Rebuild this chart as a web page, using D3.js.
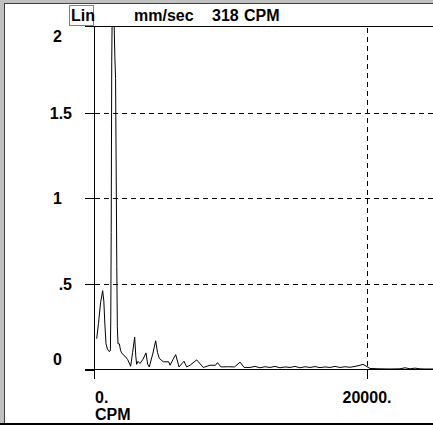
<!DOCTYPE html>
<html lang="en">
<head>
<meta charset="utf-8">
<style>
  body { margin: 0; background: #fff; }
  svg { display: block; }
  .lbl { font-family: "Liberation Sans", Arial, sans-serif; font-weight: bold; font-size: 16px; fill: #000; }
  .grid { stroke: #000; stroke-width: 1px; stroke-dasharray: 5,4; fill: none; shape-rendering: crispEdges; }
  .ax { stroke: #000; stroke-width: 1px; shape-rendering: crispEdges; }
  .spec { fill: none; stroke: #000; stroke-width: 1px; }
</style>
<script src="https://d3js.org/d3.v7.min.js"></script>
</head>
<body>
<script>
// header texts
var scaleType = "Lin";
var unitLabel = "mm/sec";
var cursorValue = "318";
var cursorUnit = "CPM";
var xTitle = "CPM";

// axes
var yTicks = [0, 0.5, 1, 1.5, 2];
var yTickLabels = ["0", ".5", "1", "1.5", "2"];
var xTicks = [0, 20000];
var xTickLabels = ["0.", "20000."];

// spectrum (CPM, mm/sec)
var freqCpm = [198, 330, 480, 636, 720, 800, 880, 980, 1100, 1200, 1230, 1260, 1300, 1340,
  1400, 1450, 1480, 1530, 1580, 1630, 1670, 1710, 1760, 1856, 1950, 2027, 2150, 2271, 2466,
  2686, 2830, 2979, 3060, 3125, 3223, 3370, 3590, 3809, 3931, 4051, 4300, 4520, 4650, 4784,
  5077, 5470, 5568, 5800, 5985, 6227, 6593, 6789, 7033, 7524, 8008, 8498, 8900, 9046, 9300,
  9800, 10300, 10700, 11000, 11429, 11795, 12161, 12527, 12894, 13260, 13626, 13993, 14359,
  14725, 15092, 15458, 15824, 16190, 16557, 16923, 17289, 17656, 18022, 18388, 18755, 19121,
  19487, 19707, 19927, 20220, 20952, 21685, 22418, 22784, 23150, 23517, 23883, 24249, 24835];
var amplitude = [0.18, 0.27, 0.39, 0.46, 0.40, 0.26, 0.15, 0.12, 0.105, 0.11, 0.30, 0.80, 1.80, 2.15,
  2.50, 2.30, 2.00, 1.82, 1.70, 1.10, 0.60, 0.25, 0.15, 0.15, 0.11, 0.097, 0.085, 0.078, 0.058,
  0.019, 0.10, 0.19, 0.08, 0.03, 0.048, 0.035, 0.06, 0.097, 0.03, 0.015, 0.09, 0.168, 0.10, 0.065,
  0.045, 0.045, 0.025, 0.06, 0.087, 0.015, 0.048, 0.015, 0.025, 0.056, 0.012, 0.025, 0.025, 0.04, 0.015,
  0.016, 0.015, 0.043, 0.012, 0.012, 0.018, 0.010, 0.016, 0.012, 0.018, 0.010, 0.015, 0.012,
  0.018, 0.010, 0.016, 0.012, 0.017, 0.011, 0.015, 0.012, 0.018, 0.012, 0.016, 0.013, 0.018,
  0.025, 0.030, 0.020, 0.006, 0.004, 0.003, 0.004, 0.010, 0.004, 0.008, 0.004, 0.003, 0.003];

var width = 433, height = 425;
var plotLeft = 94, plotRight = 433, plotTop = 27, plotBottom = 369.5;

var x = d3.scaleLinear().domain([0, 20000]).range([plotLeft, 367]);
var y = d3.scaleLinear().domain([0, 2]).range([plotBottom, plotTop]);

var svg = d3.select("body").append("svg")
  .attr("width", width)
  .attr("height", height);

// window frame
svg.append("rect").attr("width", width).attr("height", height).attr("fill", "#c0c0c0");
svg.append("rect").attr("x", 5).attr("y", 4).attr("width", width - 5).attr("height", 419).attr("fill", "#fff");
svg.append("line").attr("x1", 4.5).attr("x2", 4.5).attr("y1", 3).attr("y2", 423).attr("stroke", "#404040");
svg.append("line").attr("x1", 4).attr("x2", width).attr("y1", 3.5).attr("y2", 3.5).attr("stroke", "#404040");
svg.append("rect").attr("x", 0).attr("y", 423).attr("width", width).attr("height", 2).attr("fill", "#000");

// header
svg.append("rect")
  .attr("x", 69.5).attr("y", 5.5).attr("width", 24).attr("height", 20)
  .attr("fill", "none").attr("stroke", "#000").attr("stroke-dasharray", "1,1");
svg.append("text").attr("class", "lbl").attr("x", 71).attr("y", 21).text(scaleType);
svg.append("text").attr("class", "lbl").attr("x", 134).attr("y", 21).text(unitLabel);
svg.append("text").attr("class", "lbl").attr("x", 212).attr("y", 21).text(cursorValue);
svg.append("text").attr("class", "lbl").attr("x", 244).attr("y", 21).text(cursorUnit);
svg.append("line").attr("class", "ax")
  .attr("x1", 85).attr("x2", plotRight).attr("y1", 26.5).attr("y2", 26.5);

// grid
var g = svg.append("g");
g.selectAll(".hgrid")
  .data(yTicks.filter(function(d) { return d > 0 && d < 2; }))
  .enter().append("line")
  .attr("class", "grid")
  .attr("x1", plotLeft + 1).attr("x2", plotRight)
  .attr("y1", function(d) { return Math.round(y(d)) + 0.5; })
  .attr("y2", function(d) { return Math.round(y(d)) + 0.5; });
g.selectAll(".vgrid")
  .data(xTicks.filter(function(d) { return d > 0; }))
  .enter().append("line")
  .attr("class", "grid")
  .attr("x1", function(d) { return Math.round(x(d)) + 0.5; })
  .attr("x2", function(d) { return Math.round(x(d)) + 0.5; })
  .attr("y1", plotTop + 1).attr("y2", plotBottom);

// y ticks + labels
g.selectAll(".ytick")
  .data(yTicks.filter(function(d) { return d < 2; }))
  .enter().append("line")
  .attr("class", "ax")
  .attr("x1", 85).attr("x2", plotLeft)
  .attr("y1", function(d) { return Math.round(y(d)) + 0.5; })
  .attr("y2", function(d) { return Math.round(y(d)) + 0.5; });
g.selectAll(".ylab")
  .data(yTicks)
  .enter().append("text")
  .attr("class", "lbl")
  .attr("text-anchor", "end")
  .attr("x", function(d, i) { return yTickLabels[i].indexOf(".") >= 0 ? 72 : 62; })
  .attr("y", function(d) { return Math.min(359, Math.max(36, y(d))) + 6; })
  .text(function(d, i) { return yTickLabels[i]; });

// x ticks + labels
g.selectAll(".xtick")
  .data(xTicks)
  .enter().append("line")
  .attr("class", "ax")
  .attr("x1", function(d) { return Math.round(x(d)) + 0.5; })
  .attr("x2", function(d) { return Math.round(x(d)) + 0.5; })
  .attr("y1", plotBottom).attr("y2", 379);
g.selectAll(".xlab")
  .data(xTicks)
  .enter().append("text")
  .attr("class", "lbl")
  .attr("text-anchor", function(d) { return d === 0 ? "start" : "middle"; })
  .attr("x", function(d) { return d === 0 ? x(d) + 1 : x(d); })
  .attr("y", 403)
  .text(function(d, i) { return xTickLabels[i]; });
svg.append("text").attr("class", "lbl").attr("x", plotLeft + 1).attr("y", 420).text(xTitle);

// axes
svg.append("line").attr("class", "ax")
  .attr("x1", plotLeft + 0.5).attr("x2", plotLeft + 0.5).attr("y1", 26).attr("y2", 379);
svg.append("line").attr("class", "ax")
  .attr("x1", 85).attr("x2", plotRight).attr("y1", Math.round(plotBottom) - 0.5).attr("y2", Math.round(plotBottom) - 0.5);

// spectrum
svg.append("clipPath").attr("id", "clip")
  .append("rect").attr("x", plotLeft).attr("y", 27).attr("width", plotRight - plotLeft).attr("height", plotBottom - 27 + 1);

var pts = freqCpm.map(function(f, i) { return [f, amplitude[i]]; });
var line = d3.line()
  .x(function(d) { return x(d[0]); })
  .y(function(d) { return y(d[1]); });
svg.append("path")
  .datum(pts)
  .attr("class", "spec")
  .attr("clip-path", "url(#clip)")
  .attr("d", line);
</script>
</body>
</html>
